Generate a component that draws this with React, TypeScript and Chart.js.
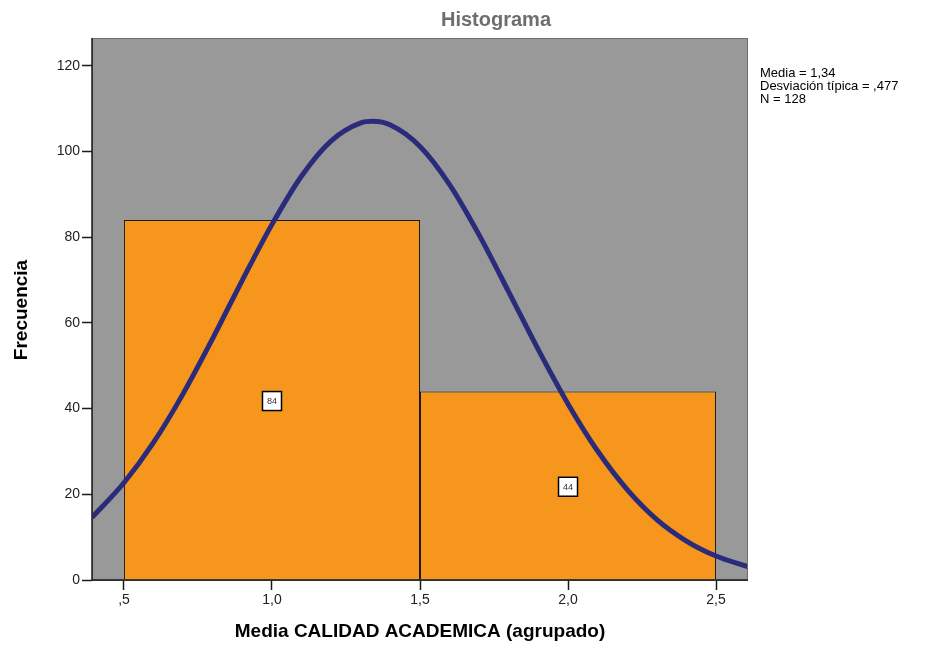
import React, { useEffect, useRef } from "react";
import { Chart, registerables } from "chart.js";

Chart.register(...registerables);

// Histogram bins (centers) and frequencies
const binCenters = [1.0, 2.0];
const binCounts = [84, 44];

// Normal curve points (x, frequency)
const curveX = [0.392, 0.5, 0.6, 0.7, 0.8, 0.9, 1.0, 1.1, 1.2, 1.3, 1.34, 1.4, 1.5, 1.6, 1.7, 1.8, 1.9, 2.0, 2.1, 2.2, 2.3, 2.4, 2.5, 2.608];
const curveY = [14.6, 22.7, 32.1, 43.5, 56.4, 70.0, 83.0, 94.3, 102.5, 106.7, 107.05, 106.2, 101.2, 92.3, 80.5, 67.2, 53.7, 41.1, 30.1, 21.1, 14.1, 9.1, 5.6, 3.1];

const xTicks = [0.5, 1.0, 1.5, 2.0, 2.5];
const xTickLabels = [",5", "1,0", "1,5", "2,0", "2,5"];
const yTicks = [0, 20, 40, 60, 80, 100, 120];

const statsLines = ["Media = 1,34", "Desviación típica = ,477", "N = 128"];
const titleText = "Histograma";
const xTitle = "Media CALIDAD ACADEMICA (agrupado)";
const yTitle = "Frecuencia";

const FONT = "'Liberation Sans', Arial, sans-serif";

export default function App() {
  const ref = useRef<HTMLCanvasElement | null>(null);

  useEffect(() => {
    document.body.style.margin = "0";
    const canvas = ref.current!;
    const decor = {
      id: "decor",
      beforeDraw(chart: any) {
        const { ctx, chartArea } = chart;
        ctx.save();
        ctx.fillStyle = "#ffffff";
        ctx.fillRect(0, 0, chart.width, chart.height);
        ctx.fillStyle = "#999999";
        ctx.fillRect(chartArea.left, chartArea.top, chartArea.right - chartArea.left, chartArea.bottom - chartArea.top);
        ctx.restore();
      },
      afterDatasetsDraw(chart: any) {
        const { ctx, chartArea, scales } = chart;
        const xs = scales.x, ys = scales.y;
        ctx.save();
        // plot frame
        ctx.strokeStyle = "#6e6e6e";
        ctx.lineWidth = 1;
        ctx.strokeRect(chartArea.left + 0.5, chartArea.top + 0.5, chartArea.right - chartArea.left - 1, chartArea.bottom - chartArea.top);
        ctx.strokeStyle = "#1a1a1a";
        ctx.lineWidth = 1.5;
        ctx.beginPath();
        ctx.moveTo(chartArea.left, chartArea.top);
        ctx.lineTo(chartArea.left, chartArea.bottom);
        ctx.lineTo(chartArea.right, chartArea.bottom);
        ctx.stroke();
        // bar value labels
        ctx.font = `9px ${FONT}`;
        ctx.textAlign = "center";
        ctx.textBaseline = "middle";
        binCenters.forEach((c, i) => {
          const px = xs.getPixelForValue(c);
          const py = ys.getPixelForValue(binCounts[i] / 2) + 1;
          ctx.fillStyle = "#ffffff";
          ctx.fillRect(px - 10, py - 10, 20, 20);
          ctx.strokeStyle = "#000000";
          ctx.lineWidth = 1.5;
          ctx.strokeRect(px - 9.5, py - 9.5, 19, 19);
          ctx.fillStyle = "#333333";
          ctx.fillText(String(binCounts[i]), px, py + 0.5);
        });
        ctx.restore();
      },
      afterDraw(chart: any) {
        const { ctx, chartArea } = chart;
        ctx.save();
        ctx.textAlign = "center";
        ctx.textBaseline = "middle";
        ctx.fillStyle = "#6e6e6e";
        ctx.font = `bold 20px ${FONT}`;
        ctx.fillText(titleText, 496, 20);
        ctx.fillStyle = "#000000";
        ctx.font = `bold 19px ${FONT}`;
        ctx.fillText(xTitle, (chartArea.left + chartArea.right) / 2, 632);
        ctx.save();
        ctx.translate(22, 310);
        ctx.rotate(-Math.PI / 2);
        ctx.font = `bold 19px ${FONT}`;
        ctx.fillText(yTitle, 0, 0);
        ctx.restore();
        ctx.textAlign = "left";
        ctx.font = `13px ${FONT}`;
        statsLines.forEach((s, i) => ctx.fillText(s, 760, 73 + i * 13));
        ctx.restore();
      },
    };

    const chart = new Chart(canvas, {
      type: "bar",
      data: {
        datasets: [
          {
            type: "line",
            data: curveX.map((x, i) => ({ x, y: curveY[i] })),
            borderColor: "#2b2b7c",
            borderWidth: 5,
            pointRadius: 0,
            cubicInterpolationMode: "monotone",
            fill: false,
            order: 0,
          } as any,
          {
            type: "bar",
            data: binCenters.map((x, i) => ({ x, y: binCounts[i] })),
            backgroundColor: "#f7961d",
            borderColor: "#1a1a1a",
            borderWidth: 1,
            barPercentage: 1,
            categoryPercentage: 2,
            order: 1,
          } as any,
        ],
      },
      options: {
        responsive: false,
        animation: false,
        maintainAspectRatio: false,
        layout: { padding: { left: 0, right: 203, top: 38, bottom: 0 } },
        plugins: { legend: { display: false }, tooltip: { enabled: false }, title: { display: false } },
        scales: {
          x: {
            type: "linear",
            min: 0.392,
            max: 2.608,
            offset: false,
            grid: { display: true, offset: false, drawOnChartArea: false, drawTicks: true, tickLength: 10, tickColor: "#1a1a1a", tickWidth: 1.5 },
            border: { display: false },
            afterBuildTicks: (s: any) => {
              s.ticks = xTicks.map((v) => ({ value: v }));
            },
            afterFit: (s: any) => {
              s.height = 66;
            },
            ticks: {
              autoSkip: false,
              maxRotation: 0,
              padding: 2,
              color: "#222222",
              font: { family: FONT, size: 14 },
              callback: (v: any) => {
                const i = xTicks.indexOf(Number(v));
                return i >= 0 ? xTickLabels[i] : "";
              },
            },
          },
          y: {
            type: "linear",
            min: 0,
            max: 126.5,
            grid: { display: true, drawOnChartArea: false, drawTicks: true, tickLength: 10, tickColor: "#1a1a1a", tickWidth: 1.5 },
            border: { display: false },
            afterBuildTicks: (s: any) => {
              s.ticks = yTicks.map((v) => ({ value: v }));
            },
            afterFit: (s: any) => {
              s.width = 92;
            },
            ticks: {
              autoSkip: false,
              padding: 2,
              color: "#222222",
              font: { family: FONT, size: 14 },
            },
          },
        },
      } as any,
      plugins: [decor],
    });
    return () => chart.destroy();
  }, []);

  return (
    <div style={{ position: "absolute", left: 0, top: 0, width: 951, height: 646 }}>
      <canvas ref={ref} width={951} height={646} style={{ width: 951, height: 646 }} />
    </div>
  );
}
